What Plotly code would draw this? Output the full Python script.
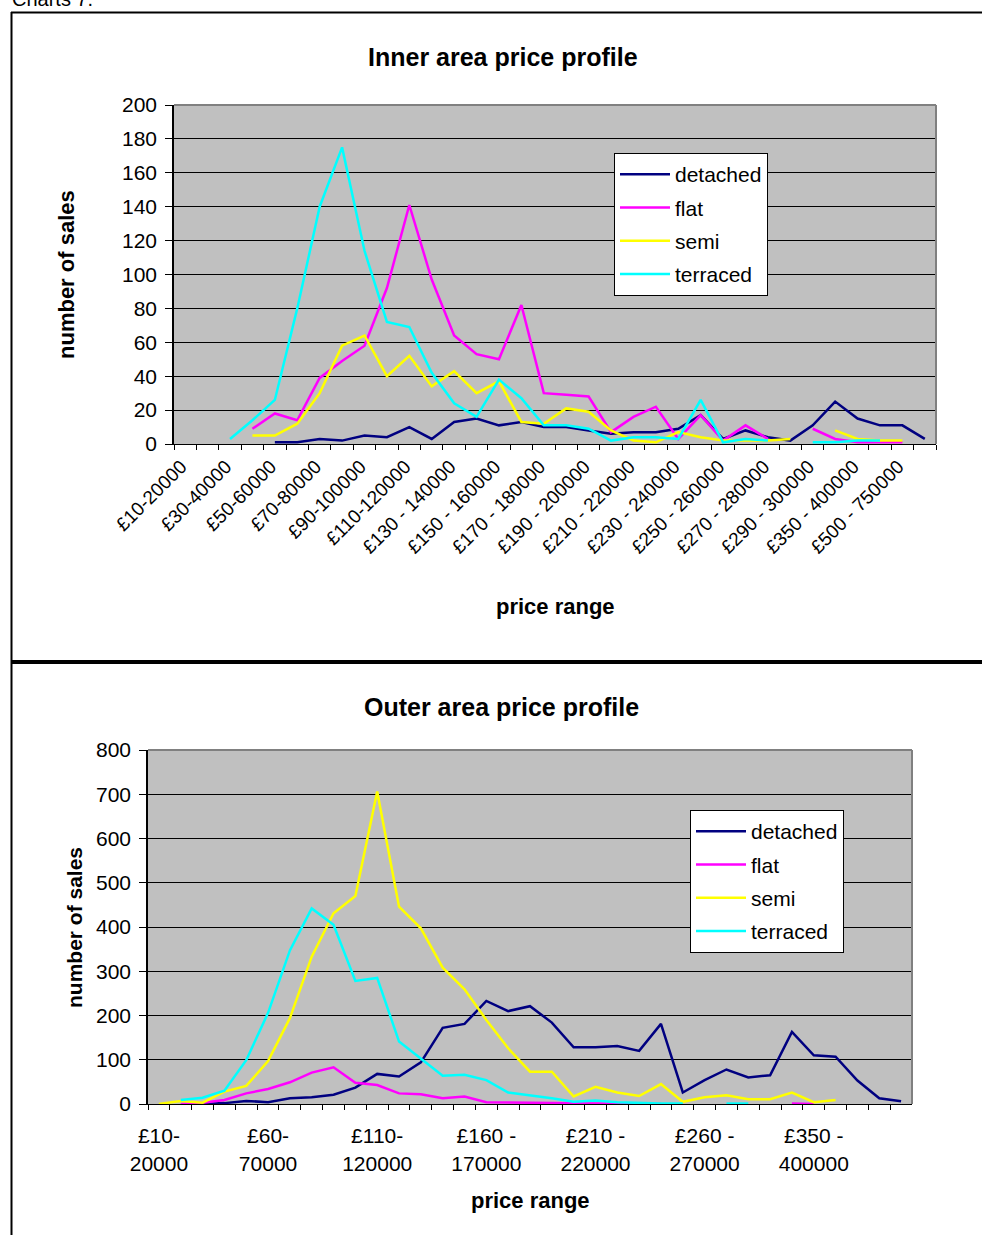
import plotly.graph_objects as go

# ---------------- data ----------------
inner_categories = [
    "£10-20000", "£20-30000", "£30-40000", "£40-50000", "£50-60000",
    "£60-70000", "£70-80000", "£80-90000", "£90-100000", "£100-110000",
    "£110-120000", "£120 - 130000", "£130 - 140000", "£140 - 150000", "£150 - 160000",
    "£160 - 170000", "£170 - 180000", "£180 - 190000", "£190 - 200000", "£200 - 210000",
    "£210 - 220000", "£220 - 230000", "£230 - 240000", "£240 - 250000", "£250 - 260000",
    "£260 - 270000", "£270 - 280000", "£280 - 290000", "£290 - 300000", "£300 - 350000",
    "£350 - 400000", "£400 - 500000", "£500 - 750000", "£750000+",
]
inner_detached = [None, None, None, None, 1, 1, 3, 2, 5, 4, 10, 3, 13, 15, 11, 13, 10, 10,
                  8, 6, 7, 7, 9, 17, 3, 8, 4, 2, 11, 25, 15, 11, 11, 3]
inner_flat = [None, None, None, 9, 18, 14, 39, 49, 58, 92, 141, 97, 64, 53, 50, 82, 30, 29,
              28, 7, 16, 22, 3, 17, 2, 11, 3, None, 9, 3, 1, 1, 1, None]
inner_semi = [None, None, None, 5, 5, 12, 30, 58, 64, 40, 52, 34, 43, 30, 37, 13, 12, 21,
              19, 8, 2, 1, 7, 4, 2, 2, 2, 3, None, 8, 3, 2, 2, None]
inner_terraced = [None, None, 3, 14, 26, 80, 140, 175, 114, 72, 69, 42, 24, 16, 38, 27, 11, 11,
                  9, 2, 4, 4, 3, 26, 1, 3, 2, None, 1, 1, 2, 2, None, None]

outer_categories = [
    "£10-20000", "£20-30000", "£30-40000", "£40-50000", "£50-60000",
    "£60-70000", "£70-80000", "£80-90000", "£90-100000", "£100-110000",
    "£110-120000", "£120 - 130000", "£130 - 140000", "£140 - 150000", "£150 - 160000",
    "£160 - 170000", "£170 - 180000", "£180 - 190000", "£190 - 200000", "£200 - 210000",
    "£210 - 220000", "£220 - 230000", "£230 - 240000", "£240 - 250000", "£250 - 260000",
    "£260 - 270000", "£270 - 280000", "£280 - 290000", "£290 - 300000", "£300 - 350000",
    "£350 - 400000", "£400 - 450000", "£450 - 500000", "£500 - 750000", "£750000+",
]
outer_tick_labels = {
    "£10-20000": "£10-<br>20000",
    "£60-70000": "£60-<br>70000",
    "£110-120000": "£110-<br>120000",
    "£160 - 170000": "£160 -<br>170000",
    "£210 - 220000": "£210 -<br>220000",
    "£260 - 270000": "£260 -<br>270000",
    "£350 - 400000": "£350 -<br>400000",
}
outer_detached = [None, None, 0, 2, 7, 4, 13, 15, 21, 37, 68, 62, 94, 172, 181, 233, 210, 221,
                  184, 128, 128, 131, 120, 181, 26, 54, 78, 60, 65, 163, 110, 107, 53, 13, 6]
outer_flat = [None, 0, 3, 9, 24, 34, 49, 71, 83, 48, 43, 24, 22, 13, 17, 4, 4, 3,
              2, 1, 1, 1, 0, 0, None, None, None, None, None, 1, 0, None, None, None, None]
outer_semi = [0, 7, 3, 28, 41, 97, 194, 333, 431, 470, 706, 446, 397, 308, 259, 190, 126, 73,
              73, 17, 39, 26, 18, 45, 5, 15, 20, 11, 11, 26, 4, 9, None, None, None]
outer_terraced = [None, 9, 14, 30, 99, 206, 347, 442, 405, 278, 285, 141, 103, 64, 66, 54, 26, 20,
                  13, 5, 8, 4, 2, 1, 1, None, 1, 1, None, None, None, None, None, None, None]

series_names = ["detached", "flat", "semi", "terraced"]
series_colors = ["#000080", "#FF00FF", "#FFFF00", "#00FFFF"]

# ---------------- layout helpers ----------------
W, H = 982, 1235
FONT = "Liberation Sans, Arial, sans-serif"


def fx(px):
    return px / W


def fy(py):
    return 1 - py / H


inner_box = dict(l=174, r=936, t=105, b=444)
outer_box = dict(l=148, r=912, t=750, b=1104)

fig = go.Figure()

inner_vals = [inner_detached, inner_flat, inner_semi, inner_terraced]
outer_vals = [outer_detached, outer_flat, outer_semi, outer_terraced]

for name, col, vals in zip(series_names, series_colors, inner_vals):
    fig.add_trace(go.Scatter(
        x=inner_categories, y=vals, mode="lines", name=name,
        line=dict(color=col, width=2.5), xaxis="x", yaxis="y",
        legend="legend", legendgroup="in_" + name, hoverinfo="skip"))

for name, col, vals in zip(series_names, series_colors, outer_vals):
    fig.add_trace(go.Scatter(
        x=outer_categories, y=vals, mode="lines", name=name,
        line=dict(color=col, width=2.5), xaxis="x2", yaxis="y2",
        legend="legend2", legendgroup="out_" + name, hoverinfo="skip"))

inner_ticktext = [c if i % 2 == 0 else "" for i, c in enumerate(inner_categories)]
outer_ticktext = [outer_tick_labels.get(c, "") for c in outer_categories]

common_x = dict(type="category", tickson="boundaries", ticks="outside", ticklen=5,
                tickcolor="black", showgrid=False, showline=True, linecolor="black",
                linewidth=1, zeroline=False, automargin=False)
common_y = dict(showgrid=True, gridcolor="black", gridwidth=1, ticks="outside", ticklen=7,
                tickcolor="black", showline=True, linecolor="black", linewidth=1.5,
                zeroline=False, automargin=False, ticklabelstandoff=4,
                tickfont=dict(family=FONT, size=21, color="black"))

legend_common = dict(xanchor="left", yanchor="top", bgcolor="white",
                     bordercolor="black", borderwidth=1, tracegroupgap=3, itemwidth=50,
                     font=dict(family=FONT, size=21, color="black"))

fig.update_layout(
    width=W, height=H,
    margin=dict(l=0, r=0, t=0, b=0),
    paper_bgcolor="white", plot_bgcolor="#C0C0C0",
    showlegend=True,
    font=dict(family=FONT, color="black"),
    xaxis=dict(common_x, domain=[fx(inner_box["l"]), fx(inner_box["r"])], anchor="y",
               categoryorder="array", categoryarray=inner_categories,
               tickmode="array", tickvals=inner_categories, ticktext=inner_ticktext,
               tickangle=-45, range=[-0.5, len(inner_categories) - 0.5],
               ticklabelstandoff=3, ticklabelshift=-4,
               tickfont=dict(family=FONT, size=19, color="black")),
    yaxis=dict(common_y, domain=[fy(inner_box["b"]), fy(inner_box["t"])], anchor="x",
               range=[0, 200], dtick=20, tick0=0),
    xaxis2=dict(common_x, domain=[fx(outer_box["l"]), fx(outer_box["r"])], anchor="y2",
                categoryorder="array", categoryarray=outer_categories,
                tickmode="array", tickvals=outer_categories, ticktext=outer_ticktext,
                tickangle=0, range=[-0.5, len(outer_categories) - 0.5],
                ticklabelstandoff=13,
                tickfont=dict(family=FONT, size=21, color="black")),
    yaxis2=dict(common_y, domain=[fy(outer_box["b"]), fy(outer_box["t"])], anchor="x2",
                range=[0, 800], dtick=100, tick0=0),
    legend=dict(legend_common, x=fx(614), y=fy(153)),
    legend2=dict(legend_common, x=fx(690), y=fy(810)),
)

shapes = []
# page borders
shapes.append(dict(type="line", xref="paper", yref="paper", x0=fx(11), x1=1.0,
                   y0=fy(12.5), y1=fy(12.5), line=dict(color="black", width=2)))
shapes.append(dict(type="line", xref="paper", yref="paper", x0=fx(11.5), x1=fx(11.5),
                   y0=fy(12), y1=0, line=dict(color="black", width=2)))
shapes.append(dict(type="line", xref="paper", yref="paper", x0=fx(11), x1=1.0,
                   y0=fy(662), y1=fy(662), line=dict(color="black", width=4)))
# plot-area grey border (top & right)
for b in (inner_box, outer_box):
    shapes.append(dict(type="line", xref="paper", yref="paper", x0=fx(b["l"]), x1=fx(b["r"]),
                       y0=fy(b["t"]), y1=fy(b["t"]), line=dict(color="#808080", width=2)))
    shapes.append(dict(type="line", xref="paper", yref="paper", x0=fx(b["r"]), x1=fx(b["r"]),
                       y0=fy(b["t"]), y1=fy(b["b"]), line=dict(color="#808080", width=2)))
fig.update_layout(shapes=shapes)

ann = []
ann.append(dict(text="Charts 7.", x=fx(10), y=fy(12), xref="paper", yref="paper",
                xanchor="left", yanchor="bottom", showarrow=False,
                font=dict(family=FONT, size=20, color="black")))
ann.append(dict(text="<b>Inner area price profile</b>", x=fx(502.5), y=fy(57), xref="paper",
                yref="paper", xanchor="center", yanchor="middle", showarrow=False,
                font=dict(family=FONT, size=25, color="black")))
ann.append(dict(text="<b>Outer area price profile</b>", x=fx(501.5), y=fy(707), xref="paper",
                yref="paper", xanchor="center", yanchor="middle", showarrow=False,
                font=dict(family=FONT, size=25, color="black")))
ann.append(dict(text="<b>number of sales</b>", x=fx(66), y=fy(275), xref="paper",
                yref="paper", xanchor="center", yanchor="middle", showarrow=False,
                textangle=-90, font=dict(family=FONT, size=22, color="black")))
ann.append(dict(text="<b>number of sales</b>", x=fx(74), y=fy(928), xref="paper",
                yref="paper", xanchor="center", yanchor="middle", showarrow=False,
                textangle=-90, font=dict(family=FONT, size=21, color="black")))
ann.append(dict(text="<b>price range</b>", x=fx(555), y=fy(606), xref="paper",
                yref="paper", xanchor="center", yanchor="middle", showarrow=False,
                font=dict(family=FONT, size=22, color="black")))
ann.append(dict(text="<b>price range</b>", x=fx(530), y=fy(1200), xref="paper",
                yref="paper", xanchor="center", yanchor="middle", showarrow=False,
                font=dict(family=FONT, size=22, color="black")))
fig.update_layout(annotations=ann)

fig.write_html("out.html",
               config={"displayModeBar": False},
               post_script="document.body.style.margin='0px';document.body.style.overflow='hidden';")
